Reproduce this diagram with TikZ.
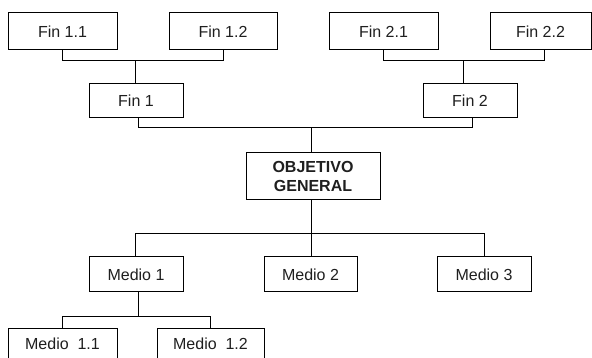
\documentclass[tikz,border=0pt]{standalone}
\usepackage{fontspec}
\setmainfont{Liberation Sans}
\begin{document}
\begin{tikzpicture}[x=1pt,y=-1pt,line width=1pt,
  box/.style={draw, rectangle, inner sep=0pt, align=center,
    font=\fontsize{16}{19}\selectfont, text=black!88},
  topbox/.style={box, minimum height=37pt},
  midbox/.style={box, minimum width=94pt, minimum height=35pt},
  lowbox/.style={box, anchor=north, minimum height=42pt, text depth=12pt}]
\useasboundingbox (0,0) rectangle (592,358);
\clip (0,0) rectangle (592,358);
% top row
\node[topbox, minimum width=109pt] (f11) at (62.5,31.5) {Fin 1.1};
\node[topbox, minimum width=108pt] (f12) at (223,31.5) {Fin 1.2};
\node[topbox, minimum width=109pt] (f21) at (383.5,31.5) {Fin 2.1};
\node[topbox, minimum width=101pt] (f22) at (540.5,31.5) {Fin 2.2};
% second row
\node[box, minimum width=94pt, minimum height=34pt] (f1) at (136,101) {Fin 1};
\node[box, minimum width=94pt, minimum height=34pt] (f2) at (470,101) {Fin 2};
% centre
\node[box, font=\fontsize{16}{19}\selectfont\bfseries, minimum width=134pt, minimum height=47pt] (og) at (313,176.5) {OBJETIVO\\GENERAL};
% means
\node[midbox] (m1) at (136,274.5) {Medio 1};
\node[midbox, minimum width=93pt] (m2) at (310.5,274.5) {Medio 2};
\node[midbox] (m3) at (484,274.5) {Medio 3};
\node[lowbox, minimum width=109pt] (m11) at (62.5,328) {Medio\ \ 1.1};
\node[lowbox, minimum width=107pt] (m12) at (210.5,328) {Medio\ \ 1.2};
% connectors
\coordinate (busA) at (135,61);
\coordinate (busB) at (463,61);
\coordinate (busC) at (311,128);
\coordinate (busD) at (311,234);
\coordinate (busE) at (138,316);
\draw (f11.south) -- (f11.south |- busA) -- (f12.south |- busA) -- (f12.south);
\draw (busA) -- (busA |- f1.north);
\draw (f21.south) -- (f21.south |- busB) -- ([xshift=3.5pt]f22.south |- busB) -- ([xshift=3.5pt]f22.south);
\draw (busB) -- (busB |- f2.north);
\draw ([xshift=2pt]f1.south) -- ([xshift=2pt]f1.south |- busC) -- ([xshift=2pt]f2.south |- busC) -- ([xshift=2pt]f2.south);
\draw (busC) -- (busC |- og.north);
\draw (busC |- og.south) -- (busD);
\draw ([xshift=-1pt]m1.north) -- ([xshift=-1pt]m1.north |- busD) -- (m3.north |- busD) -- (m3.north);
\draw (busD) -- (busD |- m2.north);
\draw (busE |- m1.south) -- (busE);
\draw (m11.north) -- (m11.north |- busE) -- (m12.north |- busE) -- (m12.north);
\end{tikzpicture}
\end{document}
